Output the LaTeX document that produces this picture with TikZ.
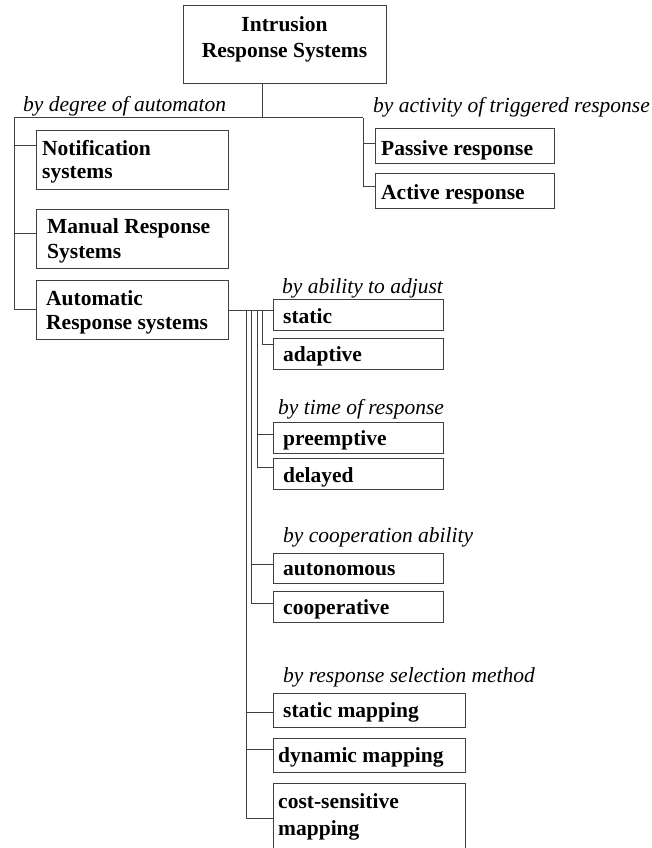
\documentclass[tikz,border=0pt]{standalone}
\usepackage{fontspec}
\setmainfont{Liberation Serif}
\begin{document}
\begin{tikzpicture}[x=1pt,y=-1pt,
  box/.style={draw=black!75, line width=1.1pt, rectangle, inner sep=0pt, anchor=north west},
  conn/.style={draw=black!75, line width=1pt},
  lbl/.style={anchor=base west, inner sep=0pt, font=\fontsize{21.5}{24}\selectfont\bfseries},
  cat/.style={anchor=base west, inner sep=0pt, font=\fontsize{21.5}{24}\selectfont\itshape},
]
\useasboundingbox (0,0) rectangle (652,848);
\clip (0,0) rectangle (652,848);

% boxes
\node[box, minimum width=203pt, minimum height=78pt] (root) at (183,5) {};
\node[box, minimum width=192pt, minimum height=59pt] (notif) at (36,130) {};
\node[box, minimum width=192pt, minimum height=59pt] (manual) at (36,209) {};
\node[box, minimum width=192pt, minimum height=59pt] (auto) at (36,280) {};
\node[box, minimum width=179pt, minimum height=35pt] (passive) at (375,128) {};
\node[box, minimum width=179pt, minimum height=35pt] (active) at (375,173) {};
\node[box, minimum width=170pt, minimum height=31pt] (static) at (273,299) {};
\node[box, minimum width=170pt, minimum height=31pt] (adaptive) at (273,338) {};
\node[box, minimum width=170pt, minimum height=31pt] (preempt) at (273,422) {};
\node[box, minimum width=170pt, minimum height=31pt] (delayed) at (273,458) {};
\node[box, minimum width=170pt, minimum height=30pt] (autonom) at (273,553) {};
\node[box, minimum width=170pt, minimum height=31pt] (coop) at (273,591) {};
\node[box, minimum width=192pt, minimum height=34pt] (smap) at (273,693) {};
\node[box, minimum width=192pt, minimum height=34pt] (dmap) at (273,738) {};
\node[box, minimum width=192pt, minimum height=80pt] (cmap) at (273,783) {};

% box texts
\node[lbl, anchor=base] (root-t) at (284.5,32) {\parbox[t]{230pt}{\centering\fontsize{21.5}{26}\selectfont\bfseries Intrusion\\Response Systems}};
\node[lbl] (notif-t) at (42,155) {\parbox[t]{185pt}{\raggedright\fontsize{21.5}{23.5}\selectfont\bfseries Notification\\systems}};
\node[lbl] (manual-t) at (47,233) {\parbox[t]{185pt}{\raggedright\fontsize{21.5}{25}\selectfont\bfseries Manual Response\\Systems}};
\node[lbl] (auto-t) at (46,305) {\parbox[t]{185pt}{\raggedright\fontsize{21.5}{24.5}\selectfont\bfseries Automatic\\Response systems}};
\node[lbl] (passive-t) at (381,155) {Passive response};
\node[lbl] (active-t) at (381,199) {Active response};
\node[lbl] (static-t) at (283,323) {static};
\node[lbl] (adaptive-t) at (283,361) {adaptive};
\node[lbl] (preempt-t) at (283,445) {preemptive};
\node[lbl] (delayed-t) at (283,482) {delayed};
\node[lbl] (autonom-t) at (283,575) {autonomous};
\node[lbl] (coop-t) at (283,614) {cooperative};
\node[lbl] (smap-t) at (283,717) {static mapping};
\node[lbl] (dmap-t) at (278,762) {dynamic mapping};
\node[lbl] (cmap-t) at (278,808) {\parbox[t]{185pt}{\raggedright\fontsize{21.5}{27}\selectfont\bfseries cost-sensitive\\mapping}};

% category labels
\node[cat] (c1) at (23,112) {by degree of automaton};
\node[cat] (c2) at (373,113) {by activity of triggered response};
\node[cat] (c3) at (282,293) {by ability to adjust};
\node[cat] (c4) at (278,414) {by time of response};
\node[cat] (c5) at (283,542) {by cooperation ability};
\node[cat] (c6) at (283,682) {by response selection method};

% top connectors
\coordinate (j0) at (262,118);
\coordinate (jl) at (14,118);
\coordinate (jr) at (363,118);
\draw[conn] (root.south -| j0) -- (j0);
\draw[conn] (jl) -- (jr);
\coordinate (bn) at (14,145);
\coordinate (bm) at (14,233);
\coordinate (ba) at (14,309);
\draw[conn] (jl) -- (ba) -- (ba -| auto.west);
\draw[conn] (bn) -- (bn -| notif.west);
\draw[conn] (bm) -- (bm -| manual.west);
\coordinate (bp) at (363,143);
\coordinate (bact) at (363,186);
\draw[conn] (jr) -- (bact) -- (bact -| active.west);
\draw[conn] (bp) -- (bp -| passive.west);

% automatic response branches
\coordinate (h0) at (228,310);
\draw[conn] (h0 -| auto.east) -- (h0 -| static.west);
\coordinate (v1) at (262,310);
\coordinate (v2) at (257,310);
\coordinate (v3) at (251,310);
\coordinate (v4) at (246,310);
\coordinate (e1) at (262,344);
\draw[conn] (v1) -- (e1) -- (e1 -| adaptive.west);
\coordinate (e2a) at (257,434);
\coordinate (e2b) at (257,467);
\draw[conn] (v2) -- (e2b) -- (e2b -| delayed.west);
\draw[conn] (e2a) -- (e2a -| preempt.west);
\coordinate (e3a) at (251,564);
\coordinate (e3b) at (251,603);
\draw[conn] (v3) -- (e3b) -- (e3b -| coop.west);
\draw[conn] (e3a) -- (e3a -| autonom.west);
\coordinate (e4a) at (246,712);
\coordinate (e4b) at (246,749);
\coordinate (e4c) at (246,818);
\draw[conn] (v4) -- (e4c) -- (e4c -| cmap.west);
\draw[conn] (e4a) -- (e4a -| smap.west);
\draw[conn] (e4b) -- (e4b -| dmap.west);
\end{tikzpicture}
\end{document}
